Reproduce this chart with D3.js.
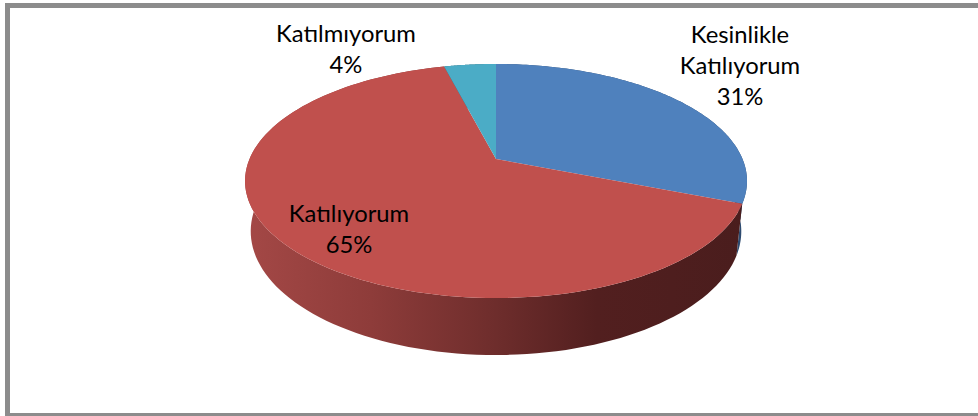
<!DOCTYPE html>
<html><head><meta charset="utf-8">
<script src="https://cdn.jsdelivr.net/npm/d3@7"></script>
<style>html,body{margin:0;padding:0;background:#fff;overflow:hidden}</style>
</head><body>
<svg id="chart" width="978" height="416"></svg>
<script>
// ---- data ----
const categories = ["Kesinlikle Katılıyorum", "Katılıyorum", "Katılmıyorum"];
const values = [31, 65, 4];
const percentLabels = ["31%", "65%", "4%"];
const topColors = ["#4F81BD", "#C0504D", "#4BACC6"];
const sideColors = ["#2E4B70", "url(#redSide)", "#2C6879"];

const svg = d3.select("#chart");
const W = 978, H = 416;

// frame
svg.append("rect").attr("x",0).attr("y",0).attr("width",W).attr("height",H).attr("fill","#fff");
const frameCol = "#8C8C8C";
svg.append("rect").attr("x",5).attr("y",3).attr("width",W).attr("height",5).attr("fill",frameCol);
svg.append("rect").attr("x",5).attr("y",3).attr("width",5).attr("height",H).attr("fill",frameCol);
svg.append("rect").attr("x",5).attr("y",413).attr("width",W).attr("height",3).attr("fill",frameCol);

// gradient for red side
const defs = svg.append("defs");
const g = defs.append("linearGradient").attr("id","redSide").attr("gradientUnits","userSpaceOnUse")
  .attr("x1",245).attr("y1",0).attr("x2",747).attr("y2",0);
[[0,"#A44846"],[0.25,"#8E3C3A"],[0.5,"#6E2D2C"],[0.7,"#521F1F"],[1,"#4A1D1D"]]
  .forEach(([o,c]) => g.append("stop").attr("offset",o).attr("stop-color",c));

// perspective projection of a tilted disc
const cx = 496, cy = 159, f = 1165.5, r = 0.2115, depth = 0.0489;
const sinP = 0.458, cosP = Math.sqrt(1 - sinP*sinP);
function proj(theta, y) {
  const X = r*Math.sin(theta), Z = r*Math.cos(theta);
  const yc = Z*sinP + y*cosP, zc = 1 + Z*cosP - y*sinP;
  return [cx + f*X/zc, cy - f*yc/zc];
}

const arcs = d3.pie().sort(null).value(d => d)(values);
const N = 120;
function rim(a0, a1, y) {
  const pts = [];
  for (let i = 0; i <= N; i++) pts.push(proj(a0 + (a1 - a0)*i/N, y));
  return pts;
}
const line = d3.line();

// side walls
arcs.forEach((a, i) => {
  const top = rim(a.startAngle, a.endAngle, 0);
  const bot = rim(a.startAngle, a.endAngle, -depth).reverse();
  svg.append("path").attr("d", line(top.concat(bot)) + "Z").attr("fill", sideColors[i]);
});
// top faces
arcs.forEach((a, i) => {
  const pts = [[cx, cy]].concat(rim(a.startAngle, a.endAngle, 0));
  svg.append("path").attr("d", line(pts) + "Z").attr("fill", topColors[i]);
});

// labels
const font = "Lato, 'Open Sans', sans-serif";
const fs = 23.8, lh = 31;
const labelLines = [
  ["Kesinlikle", "Katılıyorum", percentLabels[0]],
  ["Katılıyorum", percentLabels[1]],
  ["Katılmıyorum", percentLabels[2]]
];
const labelAnchors = [[740, 42.7], [349, 221.7], [346, 41.7]];
labelLines.forEach((ls, i) => {
  const t = svg.append("text").attr("font-family", font).attr("font-size", fs)
    .attr("fill", "#000").attr("text-anchor", "middle");
  ls.forEach((s, j) => t.append("tspan").attr("x", labelAnchors[i][0])
    .attr("y", labelAnchors[i][1] + j*lh).text(s));
});
</script>
</body></html>
